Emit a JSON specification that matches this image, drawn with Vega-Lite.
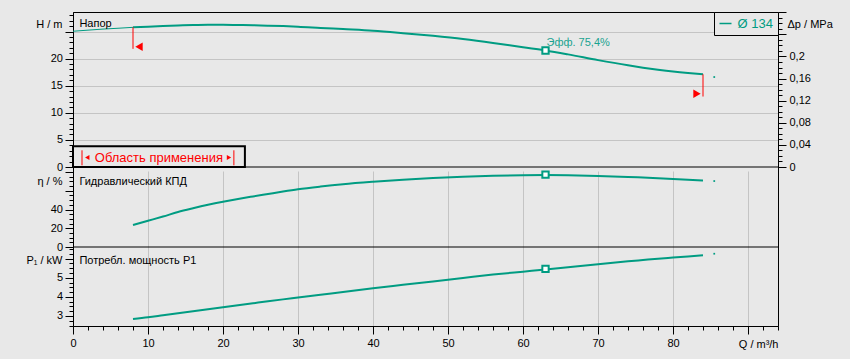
{
  "$schema": "https://vega.github.io/schema/vega-lite/v6.json",
  "width": 705,
  "height": 314,
  "autosize": {"type": "none"},
  "padding": {"left": 73, "top": 12, "right": 72, "bottom": 33},
  "background": "#e8e8e8",
  "config": {
    "view": {"stroke": "black", "strokeWidth": 1, "fill": "#e8e8e8"},
    "font": "Liberation Sans",
    "axis": {
      "domainColor": "black", "tickColor": "black", "labelColor": "black", "titleColor": "black",
      "labelFont": "Liberation Sans", "titleFont": "Liberation Sans",
      "labelFontSize": 11, "titleFontSize": 11, "titleFontWeight": "normal",
      "gridColor": "#c4c4c4", "gridWidth": 1, "labelFlush": false, "labelOverlap": false,
      "tickCount": 200
    }
  },
  "datasets": {
    "curve": [
      {"Q": 0, "H": 25.05},
      {"Q": 2, "H": 25.25},
      {"Q": 4, "H": 25.45},
      {"Q": 6, "H": 25.6},
      {"Q": 8, "H": 25.77, "eta": 23.5, "P": 2.84},
      {"Q": 10, "H": 25.9, "eta": 28, "P": 2.93},
      {"Q": 12, "H": 26.0, "eta": 32.5, "P": 3.035},
      {"Q": 14, "H": 26.1, "eta": 37.3, "P": 3.14},
      {"Q": 16, "H": 26.2, "eta": 41.3, "P": 3.245},
      {"Q": 18, "H": 26.25, "eta": 45, "P": 3.35},
      {"Q": 20, "H": 26.25, "eta": 48.3, "P": 3.455},
      {"Q": 22, "H": 26.2, "eta": 51.3, "P": 3.56},
      {"Q": 24, "H": 26.15, "eta": 54, "P": 3.665},
      {"Q": 26, "H": 26.08, "eta": 56.6, "P": 3.77},
      {"Q": 28, "H": 26.0, "eta": 59.2, "P": 3.87},
      {"Q": 30, "H": 25.9, "eta": 61.6, "P": 3.965},
      {"Q": 33, "H": 25.67, "eta": 64.5, "P": 4.11},
      {"Q": 36, "H": 25.45, "eta": 67, "P": 4.26},
      {"Q": 40, "H": 25.15, "eta": 69.6, "P": 4.45},
      {"Q": 44, "H": 24.7, "eta": 71.8, "P": 4.63},
      {"Q": 48, "H": 24.2, "eta": 73.6, "P": 4.81},
      {"Q": 52, "H": 23.62, "eta": 75, "P": 4.99},
      {"Q": 56, "H": 22.9, "eta": 76, "P": 5.17},
      {"Q": 60, "H": 22.08, "eta": 76.6, "P": 5.32},
      {"Q": 63, "H": 21.5, "eta": 76.8, "P": 5.43},
      {"Q": 66, "H": 20.78, "eta": 76.6, "P": 5.55},
      {"Q": 70, "H": 19.72, "eta": 75.9, "P": 5.71},
      {"Q": 74, "H": 18.76, "eta": 74.8, "P": 5.86},
      {"Q": 76, "H": 18.33, "eta": 74.1, "P": 5.93},
      {"Q": 78, "H": 17.94, "eta": 73.4, "P": 6.0},
      {"Q": 80, "H": 17.6, "eta": 72.7, "P": 6.06},
      {"Q": 82, "H": 17.33, "eta": 71.9, "P": 6.12},
      {"Q": 84, "H": 17.11, "eta": 71.0, "P": 6.18}
    ],
    "duty": [{"Q": 63, "H": 21.5, "eta": 77.2, "P": 5.47}],
    "tail": [{"Q": 85.5, "H": 16.6, "eta": 70.4, "P": 6.26}],
    "one": [{}]
  },
  "layer": [
    {
      "layer": [
        {
          "data": {"name": "curve"},
          "transform": [{"filter": "datum.Q <= 8"}],
          "mark": {"type": "line", "color": "#009c82", "strokeWidth": 1, "interpolate": "monotone"},
          "encoding": {
            "x": {
              "field": "Q", "type": "quantitative",
              "scale": {"domain": [0, 94], "nice": false, "zero": false},
              "axis": {
                "title": "Q / m³/h",
                "tickCount": 200,
                "values": [0,2,4,6,8,10,12,14,16,18,20,22,24,26,28,30,32,34,36,38,40,42,44,46,48,50,52,54,56,58,60,62,64,66,68,70,72,74,76,78,80,82,84,86,88,90,92,94],
                "labelExpr": "datum.value % 10 === 0 && datum.value <= 80 ? format(datum.value, '.0f') : ''",
                "tickSize": {"condition": {"test": "datum.value % 10 === 0", "value": 8}, "value": 4},
                "gridOpacity": {"condition": {"test": "datum.value % 10 === 0 && datum.value > 0 && datum.value < 94", "value": 1}, "value": 0},
                "labelPadding": 3,
                "titleAngle": 0, "titleAlign": "right", "titleBaseline": "middle",
                "titleX": 705, "titleY": 18
              }
            },
            "y": {
              "field": "H", "type": "quantitative",
              "scale": {"domain": [0, 28.6], "range": [155, 0], "nice": false, "zero": false},
              "axis": {
                "orient": "left",
                "title": "H / m",
                "tickCount": 200,
                "values": [0,1,2,3,4,5,6,7,8,9,10,11,12,13,14,15,16,17,18,19,20,21,22,23,24,25,26,27,28],
                "labelExpr": "datum.value % 5 === 0 && datum.value <= 20 ? format(datum.value, '.0f') : ''",
                "tickSize": {"condition": {"test": "datum.value % 5 === 0", "value": 8}, "value": 4},
                "gridOpacity": {"condition": {"test": "datum.value % 5 === 0 && datum.value > 0", "value": 1}, "value": 0},
                "labelPadding": 2.5,
                "titleAngle": 0, "titleAlign": "right", "titleBaseline": "middle",
                "titleX": -11, "titleY": 12
              }
            }
          }
        },
        {
          "data": {"name": "curve"},
          "transform": [{"filter": "datum.Q >= 8"}],
          "mark": {"type": "line", "strokeWidth": 2, "interpolate": "monotone"},
          "encoding": {
            "x": {"field": "Q", "type": "quantitative", "scale": {"domain": [0, 94], "nice": false, "zero": false}},
            "y": {"field": "H", "type": "quantitative", "scale": {"domain": [0, 28.6], "range": [155, 0], "nice": false, "zero": false}},
            "color": {
              "datum": "Ø 134",
              "scale": {"range": ["#009c82"]},
              "legend": {
                "orient": "top-right", "offset": 0, "title": null,
                "strokeColor": "black", "fillColor": "#e8e8e8",
                "padding": 4.5, "symbolType": "stroke", "symbolSize": 144, "symbolStrokeWidth": 1.5,
                "labelColor": "#009c82", "labelFontSize": 13, "labelFont": "Liberation Sans", "labelOffset": 5
              }
            }
          }
        },
        {
          "data": {"name": "duty"},
          "mark": {"type": "point", "shape": "square", "filled": true, "fill": "white", "stroke": "#009c82", "strokeWidth": 2, "size": 40, "opacity": 1},
          "encoding": {
            "x": {"field": "Q", "type": "quantitative"},
            "y": {"field": "H", "type": "quantitative"}
          }
        },
        {
          "data": {"name": "duty"},
          "mark": {"type": "text", "text": "Эфф.  75,4%", "align": "left", "baseline": "middle", "dx": 1, "dy": -7, "fontSize": 11, "color": "#1aa390"},
          "encoding": {
            "x": {"field": "Q", "type": "quantitative"},
            "y": {"field": "H", "type": "quantitative"}
          }
        },
        {
          "data": {"name": "tail"},
          "mark": {"type": "point", "shape": "square", "filled": true, "color": "#009c82", "size": 3, "opacity": 1},
          "encoding": {
            "x": {"field": "Q", "type": "quantitative"},
            "y": {"field": "H", "type": "quantitative"}
          }
        },
        {
          "data": {"name": "one"},
          "mark": {"type": "rule", "color": "black", "strokeWidth": 1},
          "encoding": {"y": {"datum": 0}}
        },
        {
          "data": {"name": "one"},
          "mark": {"type": "rule", "color": "#ff0000", "strokeWidth": 1},
          "encoding": {"x": {"datum": 8}, "y": {"datum": 25.77}, "y2": {"datum": 21.8}}
        },
        {
          "data": {"name": "one"},
          "mark": {"type": "rule", "color": "#ff0000", "strokeWidth": 1},
          "encoding": {"x": {"datum": 84}, "y": {"datum": 17.11}, "y2": {"datum": 13.0}}
        },
        {
          "data": {"name": "one"},
          "mark": {"type": "point", "shape": "triangle-left", "filled": true, "color": "#ff0000", "size": 72, "opacity": 1},
          "encoding": {"x": {"datum": 8.8}, "y": {"datum": 22.2}}
        },
        {
          "data": {"name": "one"},
          "mark": {"type": "point", "shape": "triangle-right", "filled": true, "color": "#ff0000", "size": 72, "opacity": 1},
          "encoding": {"x": {"datum": 83.2}, "y": {"datum": 13.5}}
        },
        {
          "data": {"name": "one"},
          "mark": {"type": "rect", "fill": "#e8e8e8", "stroke": "black", "strokeWidth": 2},
          "encoding": {"x": {"datum": 0}, "x2": {"datum": 22.92}, "y": {"datum": 0}, "y2": {"datum": 3.82}}
        },
        {
          "data": {"name": "one"},
          "mark": {"type": "rule", "color": "#ff0000", "strokeWidth": 1},
          "encoding": {"x": {"datum": 1.2}, "y": {"datum": 3.08}, "y2": {"datum": 0.31}}
        },
        {
          "data": {"name": "one"},
          "mark": {"type": "rule", "color": "#ff0000", "strokeWidth": 1},
          "encoding": {"x": {"datum": 21.45}, "y": {"datum": 3.08}, "y2": {"datum": 0.31}}
        },
        {
          "data": {"name": "one"},
          "mark": {"type": "point", "shape": "triangle-left", "filled": true, "color": "#ff0000", "size": 25, "opacity": 1},
          "encoding": {"x": {"datum": 1.9}, "y": {"datum": 1.73}}
        },
        {
          "data": {"name": "one"},
          "mark": {"type": "point", "shape": "triangle-right", "filled": true, "color": "#ff0000", "size": 25, "opacity": 1},
          "encoding": {"x": {"datum": 20.8}, "y": {"datum": 1.73}}
        },
        {
          "data": {"name": "one"},
          "mark": {"type": "text", "text": "Область применения", "align": "center", "baseline": "middle", "fontSize": 13, "color": "#ff0000"},
          "encoding": {"x": {"datum": 11.45}, "y": {"datum": 1.73}}
        },
        {
          "data": {"name": "one"},
          "mark": {"type": "text", "text": "Напор", "align": "left", "baseline": "middle", "fontSize": 11, "color": "black"},
          "encoding": {"x": {"datum": 0.85}, "y": {"datum": 26.3}}
        }
      ]
    },
    {
      "layer": [
        {
          "data": {"name": "curve"},
          "mark": {"type": "line", "color": "#009c82", "strokeWidth": 2, "interpolate": "monotone"},
          "encoding": {
            "x": {"field": "Q", "type": "quantitative"},
            "y": {
              "field": "eta", "type": "quantitative",
              "scale": {"domain": [0, 85.4], "range": [235, 155], "nice": false, "zero": false},
              "axis": {
                "orient": "left",
                "title": "η / %",
                "tickCount": 200,
                "values": [0,5,10,15,20,25,30,35,40,45,50,55,60,65,70,75,80,85],
                "labelExpr": "datum.value % 20 === 0 && datum.value <= 40 ? format(datum.value, '.0f') : ''",
                "tickSize": {"condition": {"test": "datum.value % 20 === 0", "value": 8}, "value": 4},
                "gridOpacity": {"condition": {"test": "datum.value % 20 === 0 && datum.value > 0", "value": 1}, "value": 0},
                "labelPadding": 2.5,
                "titleAngle": 0, "titleAlign": "right", "titleBaseline": "middle",
                "titleX": -11, "titleY": 169.7
              }
            }
          }
        },
        {
          "data": {"name": "duty"},
          "mark": {"type": "point", "shape": "square", "filled": true, "fill": "white", "stroke": "#009c82", "strokeWidth": 2, "size": 40, "opacity": 1},
          "encoding": {
            "x": {"field": "Q", "type": "quantitative"},
            "y": {"field": "eta", "type": "quantitative"}
          }
        },
        {
          "data": {"name": "tail"},
          "mark": {"type": "point", "shape": "square", "filled": true, "color": "#009c82", "size": 3, "opacity": 1},
          "encoding": {
            "x": {"field": "Q", "type": "quantitative"},
            "y": {"field": "eta", "type": "quantitative"}
          }
        },
        {
          "data": {"name": "one"},
          "mark": {"type": "rule", "color": "black", "strokeWidth": 1},
          "encoding": {"y": {"datum": 0}}
        },
        {
          "data": {"name": "one"},
          "mark": {"type": "text", "text": "Гидравлический КПД", "align": "left", "baseline": "middle", "fontSize": 11, "color": "black"},
          "encoding": {"x": {"datum": 0.85}, "y": {"datum": 69.9}}
        }
      ]
    },
    {
      "layer": [
        {
          "data": {"name": "curve"},
          "mark": {"type": "line", "color": "#009c82", "strokeWidth": 2, "interpolate": "monotone"},
          "encoding": {
            "x": {"field": "Q", "type": "quantitative"},
            "y": {
              "field": "P", "type": "quantitative",
              "scale": {"domain": [2.476, 6.612], "range": [314, 235], "nice": false, "zero": false},
              "axis": {
                "orient": "left",
                "title": "P₁ / kW",
                "tickCount": 200,
                "values": [2.5,2.75,3,3.25,3.5,3.75,4,4.25,4.5,4.75,5,5.25,5.5,5.75,6,6.25,6.5],
                "labelExpr": "datum.value % 1 === 0 && datum.value <= 5 ? format(datum.value, '.0f') : ''",
                "tickSize": {"condition": {"test": "datum.value % 1 === 0", "value": 8}, "value": 4},
                "gridOpacity": {"condition": {"test": "datum.value % 1 === 0", "value": 1}, "value": 0},
                "labelPadding": 2.5,
                "titleAngle": 0, "titleAlign": "right", "titleBaseline": "middle",
                "titleX": -11, "titleY": 248.7
              }
            }
          }
        },
        {
          "data": {"name": "duty"},
          "mark": {"type": "point", "shape": "square", "filled": true, "fill": "white", "stroke": "#009c82", "strokeWidth": 2, "size": 40, "opacity": 1},
          "encoding": {
            "x": {"field": "Q", "type": "quantitative"},
            "y": {"field": "P", "type": "quantitative"}
          }
        },
        {
          "data": {"name": "tail"},
          "mark": {"type": "point", "shape": "square", "filled": true, "color": "#009c82", "size": 3, "opacity": 1},
          "encoding": {
            "x": {"field": "Q", "type": "quantitative"},
            "y": {"field": "P", "type": "quantitative"}
          }
        },
        {
          "data": {"name": "one"},
          "mark": {"type": "text", "text": "Потребл. мощность P1", "align": "left", "baseline": "middle", "fontSize": 11, "color": "black"},
          "encoding": {"x": {"datum": 0.85}, "y": {"datum": 5.89}}
        }
      ]
    },
    {
      "data": {"name": "one"},
      "mark": {"type": "point", "opacity": 0},
      "encoding": {
        "x": {"datum": 0},
        "y": {
          "datum": 0,
          "scale": {"domain": [0, 0.2805], "range": [155, 0], "nice": false, "zero": false},
          "axis": {
            "orient": "right",
            "title": "Δp / MPa",
            "tickCount": 200,
            "values": [0,0.01,0.02,0.03,0.04,0.05,0.06,0.07,0.08,0.09,0.1,0.11,0.12,0.13,0.14,0.15,0.16,0.17,0.18,0.19,0.2,0.21,0.22,0.23,0.24,0.25,0.26,0.27,0.28],
            "labelExpr": "round(datum.value*100) % 4 === 0 && datum.value < 0.21 ? replace(format(datum.value, '.2~f'), '.', ',') : ''",
            "tickSize": {"condition": {"test": "round(datum.value*100) % 4 === 0", "value": 8}, "value": 4},
            "grid": false,
            "labelPadding": 3,
            "titleAngle": 0, "titleAlign": "left", "titleBaseline": "middle",
            "titleX": 9, "titleY": 12
          }
        }
      }
    }
  ],
  "resolve": {"scale": {"y": "independent"}, "axis": {"y": "independent"}}
}
